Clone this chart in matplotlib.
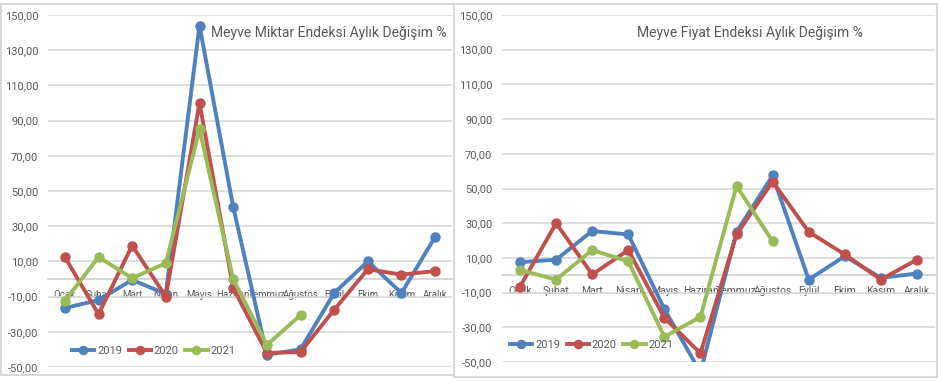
import matplotlib
matplotlib.use("Agg")
import matplotlib.pyplot as plt
from matplotlib.patches import Rectangle

months = ["Ocak", "Şubat", "Mart", "Nisan", "Mayıs", "Haziran", "Temmuz",
          "Ağustos", "Eylül", "Ekim", "Kasım", "Aralık"]
yticks = [-50, -30, -10, 10, 30, 50, 70, 90, 110, 130, 150]

miktar_2019 = [-16.5, -12, -0.5, -8.5, 144, 41, -43, -40, -8, 10, -8, 24]
miktar_2020 = [12.5, -20, 19, -10, 100, -5, -42, -41.5, -17.5, 5.5, 2.5, 4.5]
miktar_2021 = [-12.5, 12.5, 0.5, 9, 85, 0, -37.5, -20.5]

fiyat_2019 = [7.5, 9, 25.5, 23.5, -19.5, -56, 25, 57.5, -2.5, 11, -1.5, 1]
fiyat_2020 = [-6.5, 30, 0.5, 14.5, -24.5, -45, 23.5, 54, 25, 12, -2.5, 9]
fiyat_2021 = [3, -2.5, 14.5, 8, -35.5, -24, 51.5, 19.5]

colors = {"2019": "#4F81BD", "2020": "#C0504D", "2021": "#9BBB59"}
W, H = 942, 381
plt.rcParams["font.family"] = ["Roboto", "DejaVu Sans"]

fig = plt.figure(figsize=(W / 100, H / 100), dpi=100)

def px_axes(x0, x1, y0, y1):
    return fig.add_axes([x0 / W, (H - y1) / H, (x1 - x0) / W, (y1 - y0) / H])

def draw(ax, series, title, tx, ha, legend_anchor, xls):
    ax.set_axisbelow(True)
    for name, vals in series:
        ax.plot(range(len(vals)), vals, color=colors[name], lw=2.8, marker="o",
                ms=6.5, label=name, zorder=3, solid_joinstyle="round")
    ax.set_xlim(-0.5, 11.5)
    ax.set_ylim(-50, 150)
    ax.set_yticks(yticks)
    ax.set_yticklabels([f"{v:.2f}".replace(".", ",") for v in yticks])
    ax.set_xticks(range(len(months)))
    ax.set_xticklabels(months)
    for s in ["top", "right", "left"]:
        ax.spines[s].set_visible(False)
    ax.spines["bottom"].set_position(("data", 0))
    ax.spines["bottom"].set_color("#D0D0D0")
    ax.spines["bottom"].set_linewidth(1.2)
    ax.grid(axis="y", color="#D9D9D9", lw=1.2)
    ax.tick_params(axis="y", length=0, colors="#595959", labelsize=8, pad=7)
    ax.tick_params(axis="x", length=0, colors="#595959", labelsize=xls, pad=8)
    ax.legend(loc="center left", bbox_to_anchor=legend_anchor, ncol=3,
              frameon=False, fontsize=8, handlelength=2.0, columnspacing=0.6,
              handletextpad=0.25, labelcolor="#595959", borderaxespad=0.0,
              borderpad=0.0, markerscale=0.9)
    fig.text(tx / W, (H - 33) / H, title, ha=ha, va="center",
             fontsize=10, color="#595959")

ax1 = px_axes(48, 452, 15, 367)
draw(ax1, [("2019", miktar_2019), ("2020", miktar_2020), ("2021", miktar_2021)],
     "Meyve Miktar Endeksi Aylık Değişim %", 447, "right", (24 / 404, 16 / 352), 7)

ax2 = px_axes(502, 935, 15, 362)
draw(ax2, [("2019", fiyat_2019), ("2020", fiyat_2020), ("2021", fiyat_2021)],
     "Meyve Fiyat Endeksi Aylık Değişim %", 750, "center", (8 / 433, 17 / 347), 7.5)

for (x0, x1, y0, y1) in [(1, 454, 4, 375), (454, 937, 4, 377)]:
    fig.patches.append(Rectangle((x0 / W, (H - y1) / H), (x1 - x0) / W, (y1 - y0) / H,
                                 transform=fig.transFigure, fill=False,
                                 edgecolor="#D9D9D9", lw=1.5))

fig.savefig("out.png", dpi=100, facecolor="white")
